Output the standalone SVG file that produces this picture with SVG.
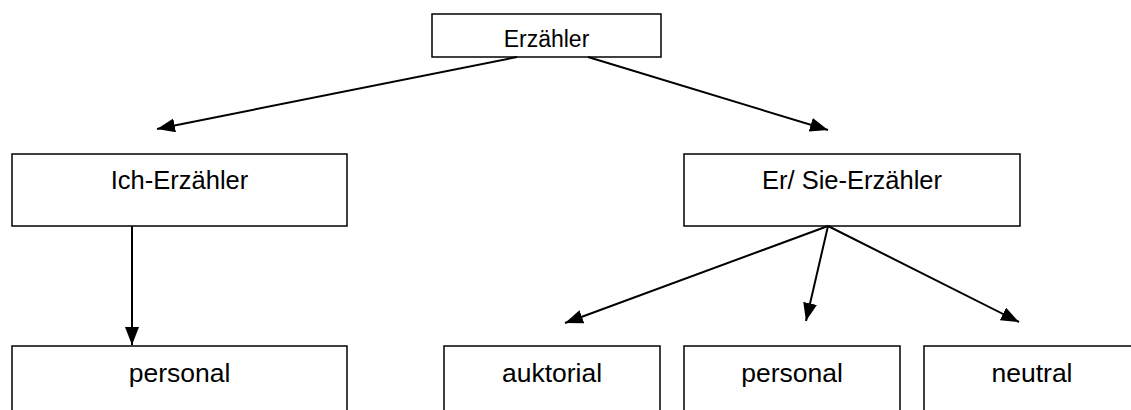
<svg xmlns="http://www.w3.org/2000/svg" width="1131" height="410" viewBox="0 0 1131 410">
<style>
.box{fill:#fff;stroke:#000;stroke-width:1.5}
.lbl{font-family:"Liberation Sans",Arial,sans-serif;font-size:26.5px;fill:#000;text-anchor:middle}
.mid{font-size:25.5px}
.small{font-size:23px}
.edge{stroke:#000;stroke-width:2;fill:none;marker-end:url(#ah)}
</style>
<defs>
<marker id="ah" markerUnits="userSpaceOnUse" markerWidth="19" markerHeight="15" refX="18" refY="7" orient="auto">
<path d="M0,0 L18,7 L0,14 z" fill="#000"/>
</marker>
</defs>
<rect width="1131" height="410" fill="#fff"/>
<g id="n-erzaehler"><rect class="box" x="432" y="14" width="229" height="43"/><text class="lbl small" x="546.5" y="47">Erzähler</text></g>
<g id="n-ich"><rect class="box" x="12" y="154" width="335" height="72"/><text class="lbl mid" x="179.5" y="189">Ich-Erzähler</text></g>
<g id="n-ersie"><rect class="box" x="684" y="154" width="336" height="72"/><text class="lbl mid" x="852" y="189">Er/ Sie-Erzähler</text></g>
<g id="n-personal1"><rect class="box" x="12" y="346" width="335" height="72"/><text class="lbl" x="179.5" y="382">personal</text></g>
<g id="n-auktorial"><rect class="box" x="444" y="346" width="216" height="72"/><text class="lbl" x="552" y="382">auktorial</text></g>
<g id="n-personal2"><rect class="box" x="684" y="346" width="216" height="72"/><text class="lbl" x="792" y="382">personal</text></g>
<g id="n-neutral"><rect class="box" x="924" y="346" width="216" height="72"/><text class="lbl" x="1032" y="382">neutral</text></g>
<g id="connectors">
<line class="edge" x1="517" y1="57" x2="157" y2="129"/>
<line class="edge" x1="588" y1="57" x2="828" y2="130"/>
<line class="edge" x1="132" y1="226" x2="132" y2="345"/>
<line class="edge" x1="828" y1="226" x2="565" y2="323"/>
<line class="edge" x1="828" y1="226" x2="806" y2="321"/>
<line class="edge" x1="828" y1="226" x2="1019" y2="322"/>
</g>
</svg>
